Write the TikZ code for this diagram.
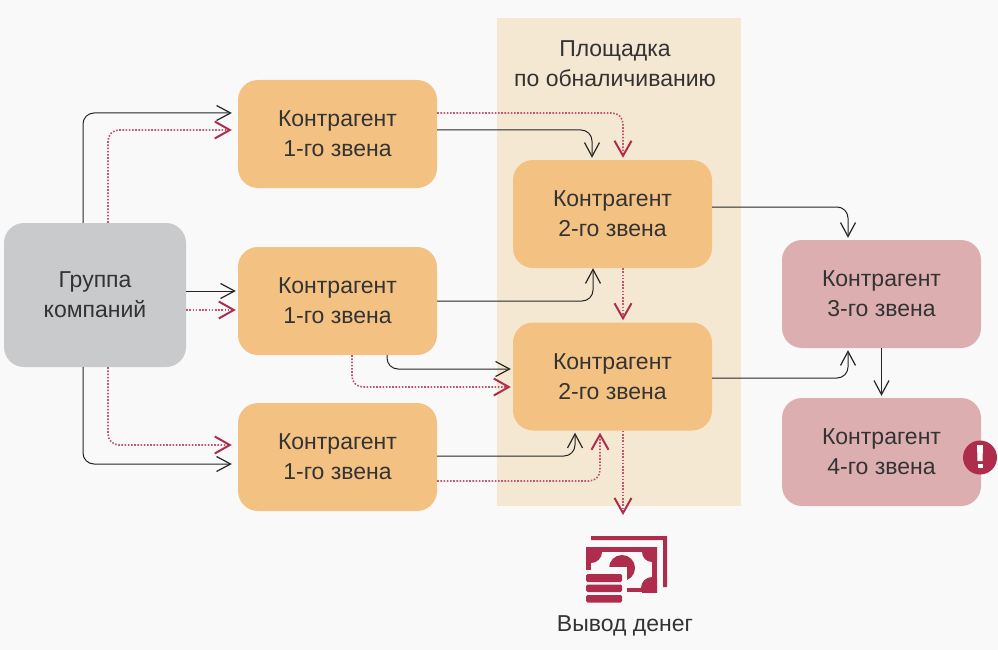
\documentclass[tikz,border=0pt]{standalone}
\usepackage{fontspec}
\setmainfont{Liberation Sans}
\usetikzlibrary{arrows.meta}
\definecolor{bgc}{HTML}{F9F9F9}
\definecolor{plat}{HTML}{F5E8D2}
\definecolor{orangeb}{HTML}{F3C283}
\definecolor{grayb}{HTML}{C9CACB}
\definecolor{pinkb}{HTML}{DDAEAF}
\definecolor{redc}{HTML}{AE2C4C}
\definecolor{txt}{HTML}{333333}
\tikzset{
  x=1pt,y=-1pt,
  txtstyle/.style={font=\fontsize{23}{30}\selectfont,text=txt,align=center,inner sep=0pt},
  boxbase/.style={txtstyle,rounded corners=20pt,minimum width=199pt,minimum height=108pt,execute at begin node={\vspace*{3pt}}},
  orangebox/.style={boxbase,fill=orangeb},
  graybox/.style={boxbase,fill=grayb,minimum width=182pt,minimum height=144pt},
  pinkbox/.style={boxbase,fill=pinkb},
  blk/.style={draw=black!85,line width=1pt,rounded corners=11pt,-{Straight Barb[length=14pt,width=15pt,line width=1.2pt]}},
  redl/.style={draw=redc!80,line width=1.6pt,rounded corners=11pt,dash pattern=on 1.6pt off 1.6pt,-{Straight Barb[length=15pt,width=17pt,line width=2pt,color=redc]}},
}
\begin{document}
\begin{tikzpicture}
\useasboundingbox (0,0) rectangle (998,650);
\fill[bgc] (0,0) rectangle (998,650);
\fill[plat] (497,18) rectangle (741,506);
\node[txtstyle] (plabel) at (615,63.5) {Площадка\\по обналичиванию};

\node[graybox] (G) at (95,295) {Группа\\компаний};
\node[orangebox] (A1) at (337.5,134) {Контрагент\\1-го звена};
\node[orangebox] (A2) at (337.5,301) {Контрагент\\1-го звена};
\node[orangebox] (A3) at (337.5,457) {Контрагент\\1-го звена};
\node[orangebox] (B1) at (612.5,214) {Контрагент\\2-го звена};
\node[orangebox] (B2) at (612.5,376.5) {Контрагент\\2-го звена};
\node[pinkbox] (C) at (881.5,294) {Контрагент\\3-го звена};
\node[pinkbox] (D) at (881.5,452) {Контрагент\\4-го звена};
\coordinate (M) at (623,515);
\node[txtstyle] (mlabel) at (625,626) {Вывод денег};

% black connectors
\draw[blk,shorten >=6pt] ([xshift=-12pt]G.north) |- ([yshift=21pt]A1.west);
\draw[blk,shorten >=2pt] ([yshift=4pt]G.east) -- ([yshift=4pt,xshift=0pt]G.east -| A2.west);
\draw[blk,shorten >=6pt] ([xshift=-12pt]G.south) |- ([yshift=-7pt]A3.west);
\draw[blk,shorten >=2pt] ([yshift=4pt]A1.east) -| ([xshift=-20.5pt]B1.north);
\draw[blk,shorten >=0pt] (A2.east) -| ([xshift=-19.5pt]B1.south);
\draw[blk,shorten >=2pt] ([xshift=49.5pt]A2.south) |- ([yshift=7.5pt]B2.west);
\draw[blk,shorten >=2pt] ([yshift=1pt]A3.east) -| ([xshift=-37.5pt]B2.south);
\draw[blk,shorten >=2pt] ([yshift=7pt]B1.east) -| ([xshift=-33.5pt]C.north);
\draw[blk,shorten >=2pt] ([yshift=-1.5pt]B2.east) -| ([xshift=-33.5pt]C.south);
\draw[blk,shorten >=2pt] (C.south) -- (D.north);

% red connectors
\draw[redl,shorten >=6pt] ([xshift=13pt]G.north) |- ([yshift=4pt]A1.west);
\draw[redl,shorten >=2pt] ([yshift=-15pt]G.east) -- ([yshift=-15pt]G.east -| A2.west);
\draw[redl,shorten >=6pt] ([xshift=13pt]G.south) |- ([yshift=12pt]A3.west);
\draw[redl,shorten >=2pt] ([yshift=21pt]A1.east) -| ([xshift=10.5pt]B1.north);
\draw[redl,shorten >=2pt] ([xshift=14.5pt]A2.south) |- ([yshift=-10.5pt]B2.west);
\draw[redl,shorten >=2pt] ([yshift=-24pt]A3.east) -| ([xshift=-12.5pt]B2.south);
\draw[redl,shorten >=2pt] ([xshift=10.5pt]B1.south) -- ([xshift=10.5pt]B2.north);
\draw[redl] ([xshift=10.5pt]B2.south) -- (M);

% money icon
\fill[redc] (591,536) -- (667,536) -- (667,587) -- (663,587) -- (663,540) -- (591,540) -- cycle;
\begin{scope}
\clip (586,547) rectangle (657,592);
\fill[redc] (586,547) rectangle (657,592);
\fill[bgc] (591,552) rectangle (652,588);
\fill[redc] (591,552) circle[radius=11];
\fill[redc] (652,552) circle[radius=10];
\fill[redc] (652,588) circle[radius=11];
\fill[redc] (622,568) circle[radius=13];
\fill[bgc] (607,567) rectangle (627,574);
\end{scope}
\fill[bgc] (584,570) rectangle (627,606);
\fill[redc,rounded corners=1.5pt] (586,574) rectangle (622,582);
\fill[redc,rounded corners=1.5pt] (586,584.5) rectangle (622,592);
\fill[redc,rounded corners=1.5pt] (586,595) rectangle (622,602.5);

% warning badge
\fill[redc] (980,457.5) circle[radius=17];
\fill[white] (977,445) -- (983,445) -- (982.5,461) -- (977.5,461) -- cycle;
\fill[white] (977.5,463.5) rectangle (982.5,468);
\end{tikzpicture}
\end{document}
